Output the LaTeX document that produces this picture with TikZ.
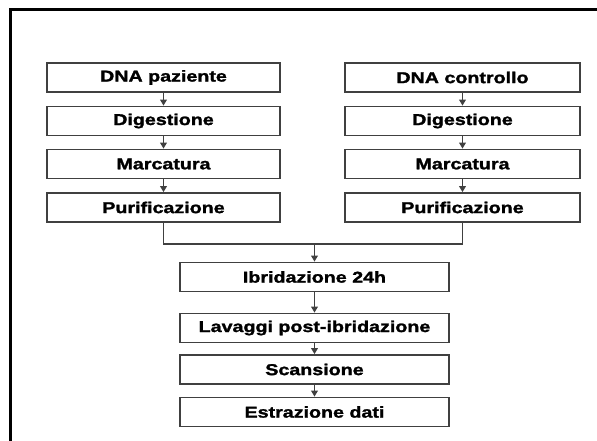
\documentclass[tikz,border=0pt]{standalone}
\usepackage{fontspec}
\setmainfont{Liberation Sans}[FakeStretch=1.25, BoldFeatures={FakeBold=1.6}]
\usetikzlibrary{arrows.meta, positioning}
\definecolor{cline}{HTML}{404040}
\definecolor{cframe}{HTML}{000000}
\tikzset{
  every picture/.style={font=\bfseries, line width=1.1pt},
  box/.style={draw=cline, fill=white, inner sep=0pt, minimum height=22pt, font=\fontsize{11.8}{13}\selectfont\bfseries},
  side/.style={box, minimum width=#1},
  arrow/.style={-{Triangle[length=4.5pt, width=5pt]}, draw=cline, line width=1.1pt},
  link/.style={draw=cline, line width=1.1pt},
}
\begin{document}
\begin{tikzpicture}[x=0.75pt, y=-0.75pt]
  \useasboundingbox (0,0) rectangle (597,441);
  % frame, cut at right and bottom
  \draw[cframe, line width=2.2pt] (10.5,441) -- (10.5,9.5) -- (597,9.5);
  % left column: patient
  \node[side=174.75pt] (paz) at (163.5,77.5) {DNA paziente};
  \node[side=174.75pt] (pazdig) at (163.5,121) {Digestione};
  \node[side=174.75pt] (pazmarc) at (163.5,164) {Marcatura};
  \node[side=174.75pt] (pazpur) at (163.5,207.5) {Purificazione};
  % right column: control
  \node[side=176.25pt] (ctr) at (462.5,77.5) {DNA controllo};
  \node[side=176.25pt] (ctrdig) at (462.5,121) {Digestione};
  \node[side=176.25pt] (ctrmarc) at (462.5,164) {Marcatura};
  \node[side=176.25pt] (ctrpur) at (462.5,207.5) {Purificazione};
  % common steps
  \node[side=201.75pt] (ibr) at (314.5,277) {Ibridazione 24h};
  \node[side=201.75pt] (lav) at (314.5,328) {Lavaggi post-ibridazione};
  \node[side=201.75pt] (scan) at (314.5,369.5) {Scansione};
  \node[side=201.75pt] (estr) at (314.5,412) {Estrazione dati};
  \coordinate (join) at (314.5,244);
  % connectors
  \draw[arrow] (paz) -- (pazdig);
  \draw[arrow] (pazdig) -- (pazmarc);
  \draw[arrow] (pazmarc) -- (pazpur);
  \draw[arrow] (ctr) -- (ctrdig);
  \draw[arrow] (ctrdig) -- (ctrmarc);
  \draw[arrow] (ctrmarc) -- (ctrpur);
  \draw[link] (pazpur.south) |- (join) -| (ctrpur.south);
  \draw[arrow] (join) -- (ibr);
  \draw[arrow] (ibr) -- (lav);
  \draw[arrow] (lav) -- (scan);
  \draw[arrow] (scan) -- (estr);
\end{tikzpicture}
\end{document}
